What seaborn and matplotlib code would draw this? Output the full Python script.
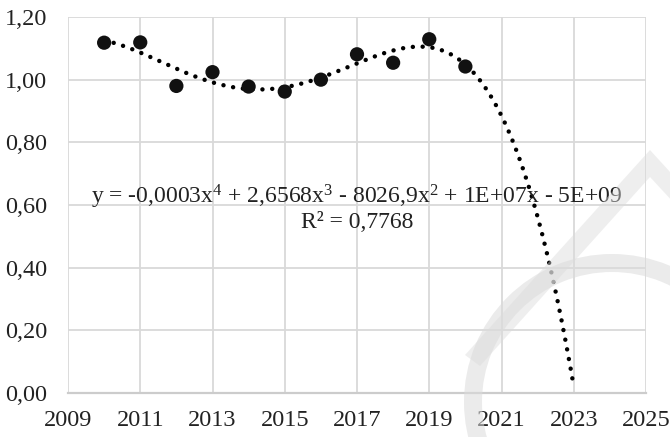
import numpy as np
import pandas as pd
import matplotlib
matplotlib.use("Agg")
import matplotlib.pyplot as plt
import matplotlib.patches as mpatches
import seaborn as sns

# -----------------------------
# data
# -----------------------------
years = [2010, 2011, 2012, 2013, 2014, 2015, 2016, 2017, 2018, 2019, 2020]
values = [1.118, 1.119, 0.980, 1.024, 0.978, 0.962, 1.000, 1.081, 1.054, 1.129, 1.042]
trend_end = 2023
x_ticks = [2009, 2011, 2013, 2015, 2017, 2019, 2021, 2023, 2025]
y_ticks = [0.0, 0.2, 0.4, 0.6, 0.8, 1.0, 1.2]
eq_text = "y = -0,0003x$^4$ + 2,6568x$^3$ - 8026,9x$^2$ + 1E+07x - 5E+09"
r2_text = "R² = 0,7768"

df = pd.DataFrame({"year": years, "value": values})

# polynomial trend (order 4), extended like the Excel forecast
coef = np.polyfit(df["year"] - 2015, df["value"], 4)
xt = np.linspace(years[0], trend_end, 300)
trend = pd.DataFrame({"year": xt, "value": np.polyval(coef, xt - 2015)})

sns.set_theme(style="white")
plt.rcParams["font.family"] = ["Liberation Serif", "DejaVu Serif"]
plt.rcParams["mathtext.default"] = "regular"

fig = plt.figure(figsize=(6.7, 4.37), dpi=100)
ax = fig.add_axes([68 / 670, 1 - 393 / 437, (646 - 68) / 670, (393 - 17) / 437])

sns.lineplot(data=trend, x="year", y="value", ax=ax, color="black", lw=3.2,
             linestyle=(0, (0.01, 2.2)), dash_capstyle="round", zorder=3)
sns.scatterplot(data=df, x="year", y="value", ax=ax, color="#111111", s=105,
                edgecolor="none", zorder=4)

ax.set_xlim(2009, 2025)
ax.set_ylim(0, 1.2)
ax.set_xticks(x_ticks)
ax.set_yticks(y_ticks)
ax.set_yticklabels([f"{v:.2f}".replace(".", ",") for v in y_ticks])
ax.grid(True, color="#d9d9d9", lw=1.3)
ax.tick_params(axis="both", labelsize=17.5, colors="#222222", length=0)
ax.tick_params(axis="y", pad=15)
ax.tick_params(axis="x", pad=12)
ax.set_xlabel("")
ax.set_ylabel("")
for s in ["top", "right", "left"]:
    ax.spines[s].set_visible(False)
ax.spines["bottom"].set_color("#cccccc")
ax.spines["bottom"].set_linewidth(1.6)

ax.text(2017.0, 0.606, eq_text, ha="center", va="baseline", fontsize=17, color="#222222")
ax.text(2017.0, 0.527, r2_text, ha="center", va="baseline", fontsize=17, color="#222222")

# faint watermark laid over the chart (pixel coords, top-left origin)
H = 437
ring = mpatches.Annulus((612, H - 402), 148, 18, transform=None,
                        color="#dbdbdb", alpha=0.55, lw=0, zorder=10)
chevron = [(465, 355), (650, 150), (712, 218), (699, 230), (650, 177), (480, 366)]
band = mpatches.Polygon([(x, H - y) for x, y in chevron], closed=True, transform=None,
                        color="#dbdbdb", alpha=0.45, lw=0, zorder=10)
fig.patches.extend([band, ring])

fig.savefig("out.png", dpi=100)
